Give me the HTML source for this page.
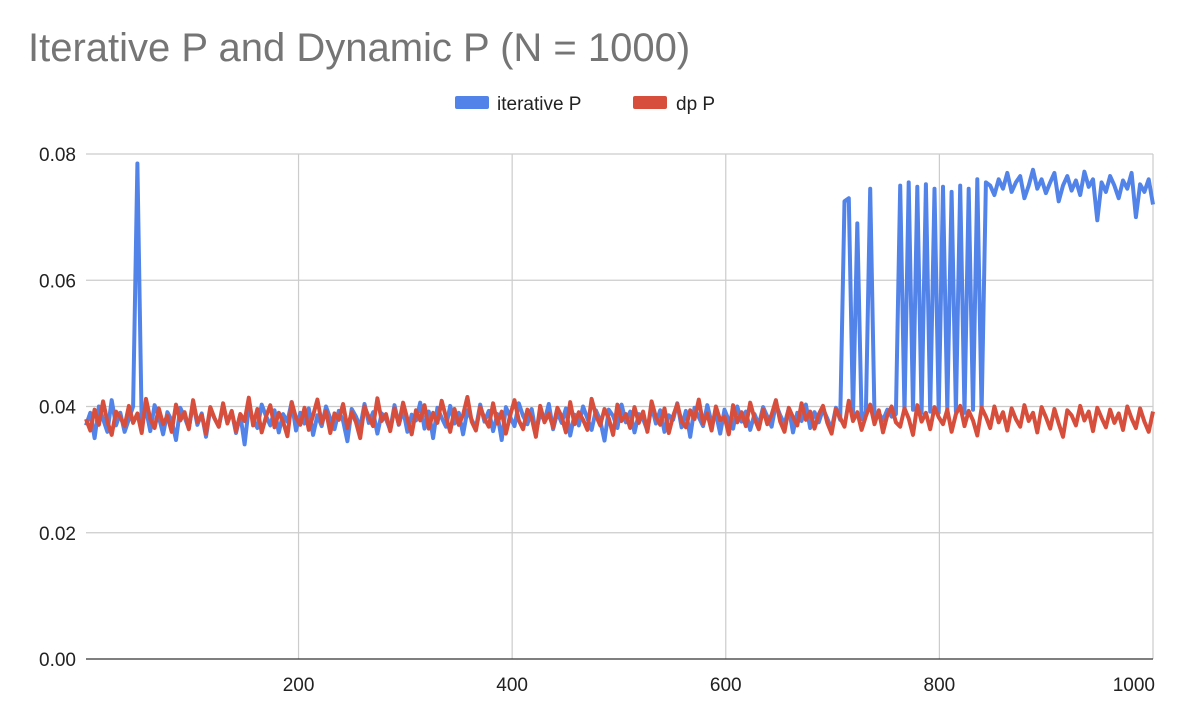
<!DOCTYPE html>
<html><head><meta charset="utf-8"><style>
body{margin:0;background:#fff;}
svg{display:block;font-family:"Liberation Sans",Arial,sans-serif;}
</style></head><body>
<svg id="chart" width="1187" height="728" viewBox="0 0 1187 728">
<rect width="1187" height="728" fill="#fff"/>
<text x="28" y="61" font-size="40" fill="#757575">Iterative P and Dynamic P (N = 1000)</text>
<g>
<g><rect x="455" y="96" width="34" height="13" rx="2" fill="#5283e9"/><text x="497" y="110" font-size="19" fill="#222">iterative P</text></g>
<g><rect x="633" y="96" width="34" height="13" rx="2" fill="#d74f3c"/><text x="676" y="110" font-size="19" fill="#222">dp P</text></g>
</g>
<g id="grid"></g><g id="series"></g><g id="axes"></g>
</svg>
<script>
const xTicks=[200,400,600,800,1000];
const yTicks=[0,0.02,0.04,0.06,0.08];
const yTickLabels=["0.00","0.02","0.04","0.06","0.08"];
const iterativeP=[.037,.039,.035,.040,.038,.036,.041,.037,.039,.036,.038,.040,.0785,
.0372,.0395,.0361,.0402,.0384,.0356,.0391,.0378,.0347,.0398,
.0383,.0365,.0405,.0371,.0389,.0352,.0396,.0381,.0368,.0401,
.0375,.0392,.0358,.0387,.0340,.0399,.0379,.0366,.0403,.0385,
.0370,.0394,.0359,.0388,.0376,.0407,.0362,.0390,.0373,.0397,
.0355,.0386,.0369,.0400,.0381,.0364,.0393,.0377,.0345,.0396,
.0384,.0367,.0404,.0374,.0391,.0357,.0389,.0380,.0363,.0402,
.0371,.0395,.0360,.0387,.0378,.0406,.0365,.0392,.0350,.0398,
.0382,.0368,.0401,.0373,.0390,.0356,.0394,.0379,.0366,.0403,
.0376,.0393,.0361,.0388,.0347,.0399,.0383,.0369,.0405,.0385,
.0372,.0396,.0358,.0390,.0377,.0404,.0364,.0391,.0374,.0397,
.0354,.0387,.0370,.0400,.0381,.0363,.0394,.0378,.0346,.0395,
.0385,.0366,.0403,.0375,.0392,.0359,.0388,.0380,.0362,.0401,
.0373,.0394,.0360,.0386,.0379,.0405,.0367,.0393,.0352,.0398,
.0383,.0369,.0402,.0374,.0389,.0357,.0395,.0378,.0365,.0400,
.0376,.0392,.0363,.0388,.0371,.0399,.0384,.0368,.0404,.0386,
.0372,.0397,.0359,.0390,.0377,.0403,.0366,.0391,.0375,.0396,
.0381,.0364,.0398,.0379,
.0725,.0730,.0385,.0690,.0380,.0392,.0745,.0385,.0390,.0378,.0395,.0384,.0388,.0750,.0390,.0755,.0395,.0748,.0390,.0752,.0392,.0745,.0390,.0748,.0395,.0740,.0392,.0750,.0390,.0745,.0395,.0760,.0392,.0755,
.0750,.0735,.0760,.0745,.0770,.0740,.0755,.0765,.0730,.0750,.0775,.0745,.0760,.0738,.0755,.0770,.0725,.0750,.0765,.0742,.0758,.0735,.0772,.0748,.0760,.0695,.0755,.0740,.0765,.0750,.0730,.0758,.0745,.0770,.0700,.0752,.0740,.0760,.0720];
const dpP=[.0380,.0362,.0395,.0371,.0408,.0376,.0355,.0392,.0383,.0369,
.0401,.0374,.0389,.0358,.0412,.0380,.0366,.0397,.0372,.0385,
.0360,.0403,.0378,.0391,.0364,.0410,.0375,.0387,.0357,.0399,
.0381,.0368,.0405,.0373,.0393,.0361,.0388,.0377,.0414,.0370,
.0396,.0359,.0384,.0402,.0367,.0390,.0376,.0353,.0407,.0382,
.0371,.0398,.0363,.0386,.0411,.0374,.0393,.0358,.0389,.0379,
.0404,.0366,.0391,.0375,.0350,.0400,.0383,.0369,.0413,.0377,
.0388,.0361,.0397,.0372,.0406,.0380,.0356,.0394,.0378,.0402,
.0365,.0390,.0374,.0409,.0383,.0360,.0396,.0371,.0387,.0415,
.0376,.0362,.0399,.0381,.0368,.0405,.0373,.0392,.0357,.0386,
.0410,.0378,.0364,.0395,.0382,.0352,.0401,.0375,.0389,.0367,
.0398,.0384,.0359,.0407,.0372,.0391,.0379,.0363,.0412,.0386,
.0370,.0396,.0381,.0355,.0403,.0377,.0388,.0366,.0399,.0374,
.0392,.0360,.0408,.0383,.0371,.0397,.0358,.0385,.0404,.0376,
.0367,.0394,.0380,.0411,.0373,.0389,.0362,.0400,.0378,.0384,
.0356,.0402,.0375,.0391,.0369,.0406,.0381,.0364,.0395,.0372,
.0387,.0410,.0376,.0360,.0398,.0383,.0370,.0405,.0379,.0392,
.0365,.0388,.0401,.0374,.0357,.0396,.0382,.0368,.0409,.0377,
.0391,.0363,.0385,.0403,.0372,.0394,.0359,.0386,.0400,.0375,
.0368,.0397,.0381,.0355,.0402,.0376,.0390,.0364,.0399,.0383,
.0372,.0395,.0360,.0388,.0401,.0369,.0393,.0378,.0354,.0398,
.0384,.0366,.0400,.0375,.0391,.0362,.0397,.0380,.0368,.0402,
.0377,.0390,.0359,.0399,.0383,.0365,.0396,.0373,.0352,.0394,
.0386,.0370,.0401,.0378,.0392,.0361,.0398,.0382,.0367,.0395,
.0374,.0389,.0363,.0400,.0381,.0366,.0397,.0376,.0360,.0392];
const xMin=1,xMax=1000,yMax=0.08;
const L=86,R=1153,T=154,B=659;
const NS="http://www.w3.org/2000/svg";
function sx(v){return L+(v-xMin)/(xMax-xMin)*(R-L);}
function sy(v){return B-v/yMax*(B-T);}
function mk(tag,attrs,parent){const e=document.createElementNS(NS,tag);for(const k in attrs)e.setAttribute(k,attrs[k]);parent.appendChild(e);return e;}
const grid=document.getElementById('grid'),axes=document.getElementById('axes'),series=document.getElementById('series');
yTicks.forEach((t,i)=>{
  if(t>0){const g=mk('line',{x1:L,x2:R,y1:sy(t),y2:sy(t),stroke:'#cccccc','stroke-width':1.2},grid);
  
  }
  const tx=mk('text',{x:76,y:sy(t)+7,'text-anchor':'end','font-size':19,fill:'#222'},axes);
  tx.textContent=yTickLabels[i];
  
  
});
xTicks.forEach((t,i)=>{
  const g=mk('line',{x1:sx(t),x2:sx(t),y1:T,y2:B,stroke:'#cccccc','stroke-width':1.2},grid);
  
  
  const last=i===xTicks.length-1;
  const tx=mk('text',{x:last?R+2:sx(t),y:691,'text-anchor':last?'end':'middle','font-size':19,fill:'#222'},axes);
  tx.textContent=String(t);
  
  
});
const base=mk('line',{x1:L,x2:R,y1:B,y2:B,stroke:'#333','stroke-width':1.3},axes);


function draw(vals,color,name){
  const n=vals.length;
  const d=vals.map((v,i)=>(i?'L':'M')+sx(xMin+i*(xMax-xMin)/(n-1)).toFixed(1)+' '+sy(v).toFixed(1)).join(' ');
  const p=mk('path',{d:d,fill:'none',stroke:color,'stroke-width':4,'stroke-linejoin':'round'},series);
  
  
}
draw(iterativeP,'#5283e9','iterative-p-line');
draw(dpP,'#d74f3c','dp-p-line');
</script>
</body></html>
